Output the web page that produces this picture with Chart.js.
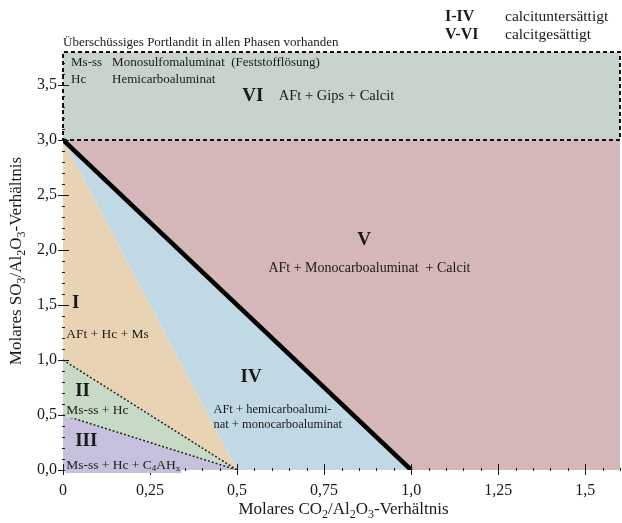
<!DOCTYPE html>
<html>
<head>
<meta charset="utf-8">
<script src="https://cdn.jsdelivr.net/npm/chart.js@4.4.1/dist/chart.umd.min.js"></script>
<style>
  html, body { margin: 0; padding: 0; background: #fff; }
</style>
</head>
<body>
<canvas id="myChart" width="622" height="523"></canvas>
<script>
var ctx = document.getElementById('myChart');

// axis ranges and tick labels
const X_MAX = 1.6;
const Y_MAX = 3.8;
const xTickValues = [0, 0.25, 0.5, 0.75, 1.0, 1.25, 1.5];
const xTickLabels = ['0', '0,25', '0,5', '0,75', '1,0', '1,25', '1,5'];
const yTickValues = [0, 0.5, 1.0, 1.5, 2.0, 2.5, 3.0, 3.5];
const yTickLabels = ['0,0', '0,5', '1,0', '1,5', '2,0', '2,5', '3,0', '3,5'];

// phase fields (CO2/Al2O3, SO3/Al2O3)
const fieldVI  = [{x:0,y:3},{x:1.6,y:3},{x:1.6,y:3.8},{x:0,y:3.8},{x:0,y:3}];
const fieldV   = [{x:0,y:3},{x:1.6,y:3},{x:1.6,y:0},{x:1,y:0}];
const fieldIV  = [{x:0,y:3},{x:1,y:0},{x:0.5,y:0}];
const fieldI   = [{x:0,y:3},{x:0.5,y:0},{x:0,y:1}];
const fieldII  = [{x:0,y:1},{x:0.5,y:0},{x:0,y:0.5}];
const fieldIII = [{x:0,y:0.5},{x:0.5,y:0},{x:0,y:0}];

// boundaries
const calciteLine = [{x:0,y:3},{x:1,y:0}];
const boundaryI_II = [{x:0,y:1},{x:0.5,y:0}];
const boundaryII_III = [{x:0,y:0.5},{x:0.5,y:0}];

const COLORS = {
  VI: '#c7d3cb', V: '#d6b7b9', IV: '#c0d9e4',
  I: '#e8d4b4', II: '#c7dac6', III: '#c7c0dc'
};

const SERIF = '"Liberation Serif", "Times New Roman", serif';
const INK = '#1a1a1a';

// labels inside the diagram: [text, x, y, bold, size, bg]
const fieldLabels = [
  ['Ms-ss', 0.023, 3.70, false, 13],
  ['Monosulfomaluminat  (Feststofflösung)', 0.141, 3.70, false, 13],
  ['Hc', 0.023, 3.545, false, 13],
  ['Hemicarboaluminat', 0.141, 3.545, false, 13],
  ['VI', 0.515, 3.40, true, 19],
  ['AFt + Gips + Calcit', 0.62, 3.40, false, 14.5],
  ['V', 0.845, 2.09, true, 19],
  ['AFt + Monocarboaluminat  + Calcit', 0.59, 1.836, false, 14],
  ['I', 0.026, 1.52, true, 19],
  ['AFt + Hc + Ms', 0.009, 1.236, false, 13.5, COLORS.I],
  ['IV', 0.51, 0.845, true, 19],
  ['AFt + hemicarboalumi-', 0.432, 0.545, false, 12.5],
  ['nat + monocarboaluminat', 0.432, 0.41, false, 12.5],
  ['II', 0.035, 0.718, true, 19],
  ['Ms-ss + Hc', 0.009, 0.545, false, 13.5, COLORS.II],
  ['III', 0.035, 0.264, true, 19]
];

function measureRich(c, parts, size) {
  var total = 0;
  parts.forEach(function(p){
    var sub = p.charAt(0) === '_';
    c.font = (sub ? Math.round(size * 0.68) : size) + 'px ' + SERIF;
    total += c.measureText(sub ? p.slice(1) : p).width;
  });
  return total;
}

function drawRich(c, parts, x, y, size, align) {
  var total = measureRich(c, parts, size);
  var cx = align === 'center' ? x - total / 2 : x;
  c.textAlign = 'left';
  c.textBaseline = 'middle';
  parts.forEach(function(p){
    var sub = p.charAt(0) === '_';
    var t = sub ? p.slice(1) : p;
    c.font = (sub ? Math.round(size * 0.68) : size) + 'px ' + SERIF;
    c.fillText(t, cx, sub ? y + size * 0.3 : y);
    cx += c.measureText(t).width;
  });
}

const tickMarks = {
  id: 'tickMarks',
  afterDatasetsDraw(chart) {
    const c = chart.ctx;
    const area = chart.chartArea;
    const xs = chart.scales.x, ys = chart.scales.y;
    c.save();
    c.strokeStyle = INK;
    c.lineWidth = 1;
    c.beginPath();
    for (let i = 0; i <= 32; i++) {
      const v = i * 0.05;
      const px = Math.round(xs.getPixelForValue(v)) + 0.5;
      const major = i % 5 === 0;
      c.moveTo(px, area.bottom - (major ? 6 : 2));
      c.lineTo(px, area.bottom + (major ? 5 : 1));
    }
    for (let i = 0; i <= 37; i++) {
      const v = i * 0.1;
      const py = Math.round(ys.getPixelForValue(v)) + 0.5;
      const major = i % 5 === 0;
      c.moveTo(area.left - (major ? 5 : 1), py);
      c.lineTo(area.left + (major ? 6 : 2), py);
    }
    c.stroke();
    c.restore();
  }
};

const textLayer = {
  id: 'textLayer',
  afterDraw(chart) {
    const c = chart.ctx;
    const area = chart.chartArea;
    const xs = chart.scales.x, ys = chart.scales.y;
    c.save();
    c.fillStyle = INK;
    c.textBaseline = 'middle';
    c.textAlign = 'left';

    fieldLabels.forEach(function(l){
      const px = xs.getPixelForValue(l[1]);
      const py = ys.getPixelForValue(l[2]);
      c.font = (l[3] ? 'bold ' : '') + l[4] + 'px ' + SERIF;
      if (l[5]) {
        const w = c.measureText(l[0]).width;
        c.fillStyle = l[5];
        c.fillRect(px - 1, py - l[4] * 0.6, w + 2, l[4] * 1.2);
        c.fillStyle = INK;
      }
      c.fillText(l[0], px, py);
    });

    // III field label with subscripts
    const p3 = ['Ms-ss + Hc + C', '_4', 'AH', '_x'];
    const p3x = xs.getPixelForValue(0.009), p3y = ys.getPixelForValue(0.045);
    c.fillStyle = COLORS.III;
    c.fillRect(p3x - 1, p3y - 8, measureRich(c, p3, 13.5) + 2, 16);
    c.fillStyle = INK;
    drawRich(c, p3, p3x, p3y, 13.5, 'left');

    // header notes
    c.font = '13px ' + SERIF;
    c.fillText('Überschüssiges Portlandit in allen Phasen vorhanden', area.left, 43);
    c.font = 'bold 16px ' + SERIF;
    c.fillText('I-IV', 445, 17);
    c.fillText('V-VI', 445, 35);
    c.font = '15.5px ' + SERIF;
    c.fillText('calcituntersättigt', 505, 17);
    c.fillText('calcitgesättigt', 505, 35);

    // axis titles
    drawRich(c, ['Molares CO', '_2', '/Al', '_2', 'O', '_3', '-Verhältnis'],
      (area.left + area.right) / 2 + 2, 510, 17, 'center');
    c.translate(17, (area.top + area.bottom) / 2);
    c.rotate(-Math.PI / 2);
    drawRich(c, ['Molares SO', '_3', '/Al', '_2', 'O', '_3', '-Verhältnis'], 0, 0, 17, 'center');
    c.restore();
  }
};

function field(data, color) {
  return { data: data, showLine: true, fill: 'shape', backgroundColor: color,
           borderWidth: 0, borderColor: color, pointRadius: 0, tension: 0 };
}

new Chart(ctx, {
  type: 'scatter',
  data: {
    datasets: [
      { data: calciteLine, showLine: true, borderColor: '#000', borderWidth: 4.5, pointRadius: 0, fill: false },
      { data: boundaryI_II, showLine: true, borderColor: '#222', borderWidth: 1.5, borderDash: [2, 2], pointRadius: 0, fill: false },
      { data: boundaryII_III, showLine: true, borderColor: '#222', borderWidth: 1.5, borderDash: [2, 2], pointRadius: 0, fill: false },
      { data: fieldVI, showLine: true, fill: 'shape', backgroundColor: COLORS.VI, borderColor: '#111',
        borderWidth: 2, borderDash: [4, 3], pointRadius: 0, clip: false },
      field(fieldIII, COLORS.III),
      field(fieldII, COLORS.II),
      field(fieldI, COLORS.I),
      field(fieldIV, COLORS.IV),
      field(fieldV, COLORS.V)
    ]
  },
  options: {
    responsive: false,
    animation: false,
    devicePixelRatio: 1,
    layout: { padding: { top: 52, right: 2, left: 0, bottom: 0 } },
    plugins: { legend: { display: false }, tooltip: { enabled: false } },
    scales: {
      x: {
        type: 'linear', min: 0, max: X_MAX,
        grid: { display: false, drawTicks: false },
        border: { display: false },
        afterBuildTicks: function(s){ s.ticks = xTickValues.map(function(v){ return {value: v}; }); },
        afterFit: function(s){ s.height = 53; },
        ticks: {
          autoSkip: false, maxRotation: 0, padding: 11, color: INK,
          font: { family: SERIF, size: 16 },
          callback: function(v){ return xTickLabels[xTickValues.indexOf(v)]; }
        }
      },
      y: {
        type: 'linear', min: 0, max: Y_MAX,
        grid: { display: false, drawTicks: false },
        border: { display: false },
        afterBuildTicks: function(s){ s.ticks = yTickValues.map(function(v){ return {value: v}; }); },
        afterFit: function(s){ s.width = 63; },
        ticks: {
          autoSkip: false, padding: 6, color: INK,
          font: { family: SERIF, size: 16 },
          callback: function(v){ return yTickLabels[yTickValues.indexOf(v)]; }
        }
      }
    }
  },
  plugins: [tickMarks, textLayer]
});
</script>
</body>
</html>
